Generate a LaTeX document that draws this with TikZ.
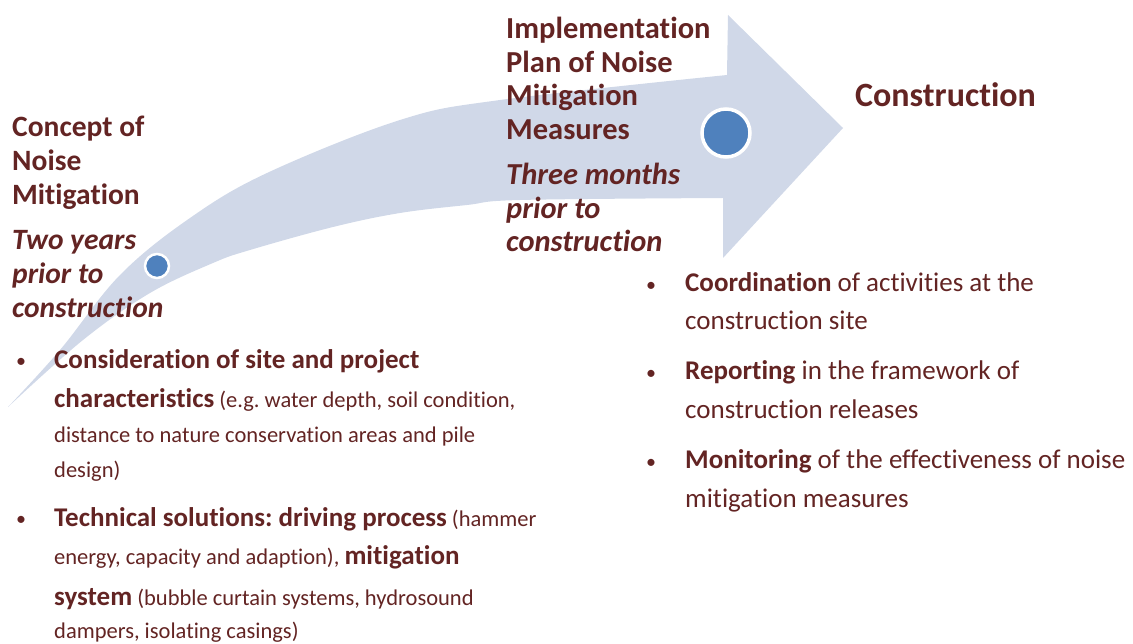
\documentclass[tikz,border=0pt]{standalone}
\usepackage{fontspec}
\setmainfont{Carlito}[Ligatures=NoCommon]
\usetikzlibrary{positioning}
\frenchspacing
\definecolor{darkbrown}{HTML}{632423}
\definecolor{arrowblue}{RGB}{208,216,232}
\definecolor{dotblue}{HTML}{4F81BD}
\tikzset{
  headtxt/.style={anchor=base west, align=left, text=darkbrown, inner sep=0pt, font=\fontsize{29.5}{34}\selectfont\bfseries},
  bodytxt/.style={anchor=base west, align=left, text=darkbrown, inner sep=0pt},
  bul/.style={anchor=base, text=darkbrown, inner sep=0pt, font=\fontsize{20}{30}\selectfont},
  dot/.style={circle, draw=white, fill=dotblue, inner sep=0pt}
}
\begin{document}
\begin{tikzpicture}[x=1pt, y=-1pt]
        \useasboundingbox (0,0) rectangle (1133,644);

        % curved arrow
        \fill[arrowblue] plot[smooth, tension=0.6] coordinates {(8,407) (60,350) (120,275) (190,218) (267,173) (400,120) (500,100) (727,75)}
            -- (728,15) -- (843,128) -- (723,258) -- (723,198)
            -- plot[smooth, tension=0.6] coordinates {(723,198) (520,200) (467,205) (400,213) (333,227) (250,250) (213,263) (150,293) (83,340) (8,407)}
            -- cycle;

        \node[dot, minimum size=24pt, line width=2.5pt] (early) at (157,266) {};
        \node[dot, minimum size=48pt, line width=3.5pt] (late) at (726,133) {};

        % headings (anchored on last baseline)
        \node[headtxt] (concept) at (12,318) {Concept of\\Noise\\Mitigation\\[11pt]{\itshape Two years}\\{\itshape prior to}\\{\itshape construction}};
        \node[headtxt, font=\fontsize{30.5}{33.5}\selectfont\bfseries] (plan) at (506,252) {Implementation\\Plan of Noise\\Mitigation\\Measures\\[12pt]{\itshape Three months}\\{\itshape prior to}\\{\itshape construction}};
        \node[headtxt, font=\fontsize{34}{40}\selectfont\bfseries] (constr) at (855,107) {Construction};

        % left list
        \node[bodytxt, font=\fontsize{22.5}{35}\selectfont] (site) at (54,477) {{\fontsize{27}{35}\selectfont\bfseries Consideration of site and project}\\[4pt]{\fontsize{27}{35}\selectfont\bfseries characteristics} (e.g. water depth, soil condition,\\distance to nature conservation areas and pile\\design)};
        \node[bodytxt, font=\fontsize{22.5}{35}\selectfont] (tech) at (54,638) {{\fontsize{27}{35}\selectfont\bfseries Technical solutions: driving process} (hammer\\[3pt]energy, capacity and adaption), {\fontsize{27}{35}\selectfont\bfseries mitigation}\\[6pt]{\fontsize{27}{35}\selectfont\bfseries system} (bubble curtain systems, hydrosound\\[-2pt]dampers, isolating casings)};
        \node[bul] (b1) at (21,368) {\textbullet};
        \node[bul] (b2) at (21,525) {\textbullet};

        % right list
        \node[bodytxt, font=\fontsize{27}{38.5}\selectfont] (coord) at (685,330) {\textbf{Coordination} of activities at the\\construction site};
        \node[bodytxt, font=\fontsize{27}{38.5}\selectfont] (report) at (685,418) {\textbf{Reporting} in the framework of\\construction releases};
        \node[bodytxt, font=\fontsize{27}{38.5}\selectfont] (monitor) at (685,507) {\textbf{Monitoring} of the effectiveness of noise\\mitigation measures};
        \node[bul] (b3) at (651,292) {\textbullet};
        \node[bul] (b4) at (651,380) {\textbullet};
        \node[bul] (b5) at (651,468) {\textbullet};
\end{tikzpicture}
\end{document}
